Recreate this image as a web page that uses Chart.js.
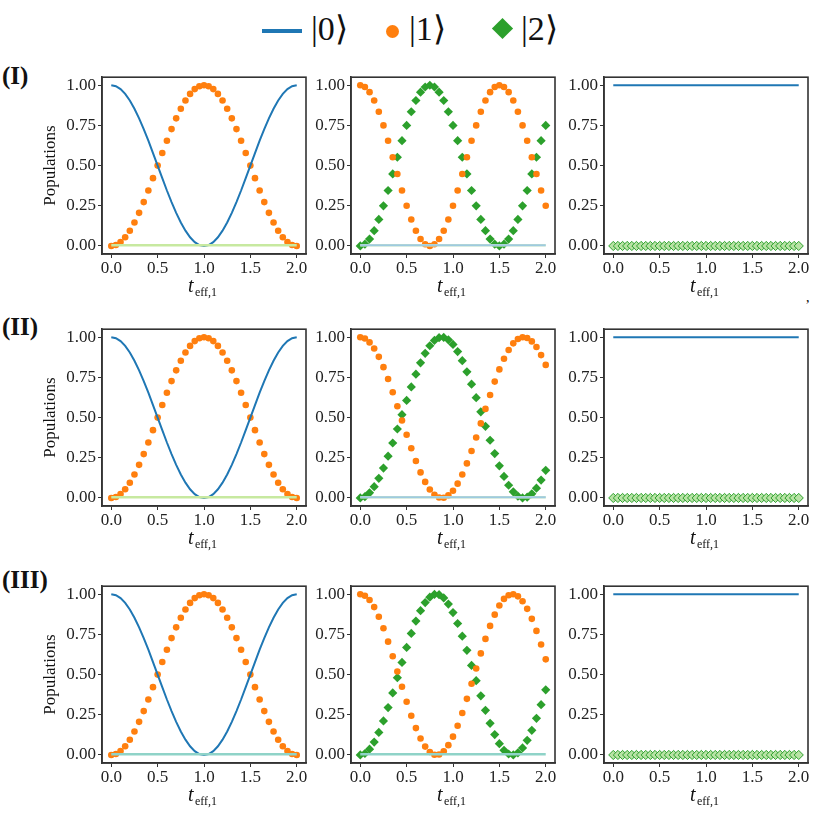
<!DOCTYPE html>
<html>
<head>
<meta charset="utf-8">
<script src="https://cdn.jsdelivr.net/npm/chart.js@4"></script>
<style>
  body { margin: 0; background: #fff; width: 831px; height: 833px; position: relative; overflow: hidden; font-family: "Liberation Serif", serif; }
  .panel { position: absolute; }
  .rowlab { position: absolute; font-weight: bold; font-size: 25px; color: #111; }
  #legend { position: absolute; top: 8px; left: 262px; height: 44px; font-size: 34px; color: #111; }
  #legend span { position: absolute; top: 0; white-space: nowrap; }
</style>
</head>
<body>
<div id="legend">
  <span style="left:0;top:21px;width:40px;height:4px;background:#1f77b4"></span>
  <span style="left:49px">|0⟩</span>
  <span style="left:124px;top:17px;width:13px;height:13px;border-radius:50%;background:#ff7f0e"></span>
  <span style="left:147px">|1⟩</span>
  <span style="left:233px;top:13px;width:15px;height:15px;transform:rotate(45deg);background:#2ca02c"></span>
  <span style="left:259px">|2⟩</span>
</div>
<div class="rowlab" style="left:2px;top:62px">(I)</div>
<div class="rowlab" style="left:2px;top:313px">(II)</div>
<div class="rowlab" style="left:2px;top:566px">(III)</div>
<div style="position:absolute;left:806px;top:290px;font-size:14px">,</div>

<script>
const T = [0,0.05,0.1,0.15,0.2,0.25,0.3,0.35,0.4,0.45,0.5,0.55,0.6,0.65,0.7,0.75,0.8,0.85,0.9,0.95,1,
           1.05,1.1,1.15,1.2,1.25,1.3,1.35,1.4,1.45,1.5,1.55,1.6,1.65,1.7,1.75,1.8,1.85,1.9,1.95,2];
const X_TICKS = [0, 0.5, 1, 1.5, 2];
const Y_TICKS = [0, 0.25, 0.5, 0.75, 1];

// column 1: |0> and |1>
const c1Pop0 = [1,.994,.976,.946,.905,.854,.794,.727,.655,.578,.5,.422,.345,.273,.206,.146,.095,.054,.024,.006,0,
                .006,.024,.054,.095,.146,.206,.273,.345,.422,.5,.578,.655,.727,.794,.854,.905,.946,.976,.994,1];
const c1Pop1 = [0,.006,.024,.054,.095,.146,.206,.273,.345,.422,.5,.578,.655,.727,.794,.854,.905,.946,.976,.994,1,
                .994,.976,.946,.905,.854,.794,.727,.655,.578,.5,.422,.345,.273,.206,.146,.095,.054,.024,.006,0];

// column 2: |1> and |2>, one pair per row
const r1Pop1 = [1,.989,.957,.905,.835,.75,.655,.552,.448,.345,.25,.165,.095,.043,.011,0,.011,.043,.095,.165,.25,
                .345,.448,.552,.655,.75,.835,.905,.957,.989,1,.989,.957,.905,.835,.75,.655,.552,.448,.345,.25];
const r1Pop2 = [0,.011,.043,.095,.165,.25,.345,.448,.552,.655,.75,.835,.905,.957,.989,1,.989,.957,.905,.835,.75,
                .655,.552,.448,.345,.25,.165,.095,.043,.011,0,.011,.043,.095,.165,.25,.345,.448,.552,.655,.75];
const r2Pop1 = [1,.992,.968,.930,.878,.814,.740,.658,.571,.482,.393,.309,.230,.159,.100,.053,.020,.003,.001,.016,.045,
                .089,.146,.215,.292,.376,.464,.554,.641,.724,.800,.866,.921,.962,.989,1,.995,.974,.939,.889,.828];
const r2Pop2 = [0,.008,.032,.070,.122,.186,.260,.342,.429,.518,.607,.691,.770,.841,.900,.947,.980,.997,.999,.984,.955,
                .911,.854,.785,.708,.624,.536,.446,.359,.276,.200,.134,.079,.038,.011,0,.005,.026,.061,.111,.172];
const r3Pop1 = [1,.991,.964,.920,.860,.788,.705,.614,.519,.424,.331,.244,.167,.102,.052,.018,.001,.003,.023,.061,.114,
                .182,.261,.349,.443,.538,.632,.722,.803,.873,.930,.971,.994,1,.987,.956,.909,.847,.772,.687,.595];
const r3Pop2 = [0,.009,.036,.080,.140,.212,.295,.386,.481,.576,.669,.756,.833,.898,.948,.982,.999,.997,.977,.939,.886,
                .818,.739,.651,.557,.462,.368,.278,.197,.127,.070,.029,.006,0,.013,.044,.091,.153,.228,.313,.405];

// small leakage and the frozen column 3
const leak = [.004,.004,.004,.004,.004,.004,.004,.004,.004,.004,.004,.004,.004,.004,.004,.004,.004,.004,.004,.004,.004,
              .004,.004,.004,.004,.004,.004,.004,.004,.004,.004,.004,.004,.004,.004,.004,.004,.004,.004,.004,.004];
const flatOne = [1,1,1,1,1,1,1,1,1,1,1,1,1,1,1,1,1,1,1,1,1,1,1,1,1,1,1,1,1,1,1,1,1,1,1,1,1,1,1,1,1];
const flatZero = [0,0,0,0,0,0,0,0,0,0,0,0,0,0,0,0,0,0,0,0,0,0,0,0,0,0,0,0,0,0,0,0,0,0,0,0,0,0,0,0,0];

const BLUE = "#1f77b4", ORANGE = "#ff7f0e", GREEN = "#2ca02c";
const SERIF = "'Liberation Serif', 'DejaVu Serif', serif";
Chart.defaults.font.family = SERIF;

function pts(vals) { return vals.map((v, i) => ({ x: T[i], y: v })); }
function line(vals, color, w) {
  return { data: pts(vals), showLine: true, borderColor: color, borderWidth: w, pointRadius: 0 };
}
function dots(vals) {
  return { data: pts(vals), showLine: false, pointRadius: 3.3, backgroundColor: ORANGE, borderWidth: 0 };
}
function diamonds(vals, fill, edge) {
  return { data: pts(vals), showLine: false, pointStyle: "rectRot", pointRadius: 4.6,
           backgroundColor: fill, borderColor: edge || fill, borderWidth: edge ? 1 : 0 };
}

const frame = {
  id: "frame",
  afterDraw(chart) {
    const a = chart.chartArea, ctx = chart.ctx;
    ctx.save();
    ctx.strokeStyle = "#333";
    ctx.lineWidth = 1.6;
    ctx.strokeRect(a.left, a.top, a.right - a.left, a.bottom - a.top);
    // x axis title t_eff,1
    const cx = (a.left + a.right) / 2, y = a.bottom + 38;
    ctx.fillStyle = "#111";
    ctx.textBaseline = "alphabetic";
    ctx.font = "italic 20px " + SERIF;
    ctx.fillText("t", cx - 16, y);
    ctx.font = "12px " + SERIF;
    ctx.fillText("eff,1", cx - 9, y + 4);
    ctx.restore();
  }
};

function panel(left, top, boxW, boxH, yTitle, datasets) {
  const yw = yTitle ? 62 : 42;
  const cv = document.createElement("canvas");
  const w = yw + boxW + 6, h = boxH + 2 + 46;
  cv.width = w; cv.height = h;
  cv.className = "panel";
  cv.style.left = (left - yw) + "px";
  cv.style.top = (top - 2) + "px";
  cv.style.width = w + "px"; cv.style.height = h + "px";
  document.body.appendChild(cv);
  const tickFont = { family: SERIF, size: 17 };
  new Chart(cv, {
    type: "scatter",
    data: { datasets },
    options: {
      responsive: false, animation: false, devicePixelRatio: 1,
      layout: { padding: { top: 2, right: 6, left: 0, bottom: 0 } },
      plugins: { legend: { display: false }, tooltip: { enabled: false } },
      scales: {
        x: {
          min: -0.1, max: 2.1,
          afterBuildTicks: s => { s.ticks = X_TICKS.map(v => ({ value: v })); },
          afterFit: s => { s.height = 46; },
          ticks: { font: tickFont, color: "#222", padding: 0, maxRotation: 0, callback: v => v.toFixed(1) },
          grid: { drawOnChartArea: false, tickLength: 4, color: "#333" },
          border: { color: "#333", width: 1.6 }
        },
        y: {
          min: -0.05, max: 1.05,
          afterBuildTicks: s => { s.ticks = Y_TICKS.map(v => ({ value: v })); },
          afterFit: s => { s.width = yw; },
          ticks: { font: tickFont, color: "#222", padding: 2, callback: v => v.toFixed(2) },
          grid: { drawOnChartArea: false, tickLength: 4, color: "#333" },
          border: { color: "#333", width: 1.6 },
          title: { display: yTitle, text: "Populations", font: { family: SERIF, size: 17 }, color: "#111", padding: 0 }
        }
      }
    },
    plugins: [frame]
  });
}

const COLS = [102, 351, 604];
const ROWS = [67, 319, 576];
const BW = 204, BH = 187;

// row I
panel(COLS[0], ROWS[0], BW, BH, true, [line(leak, "#c7e9a0", 2.5), line(c1Pop0, BLUE, 2), dots(c1Pop1)]);
panel(COLS[1], ROWS[0], BW, BH, false, [line(leak, "#9ecae1", 2), line(leak, "#d9f0c0", 2.5), dots(r1Pop1), diamonds(r1Pop2, GREEN)]);
panel(COLS[2], ROWS[0], BW, BH, false, [line(flatOne, BLUE, 2), diamonds(flatZero, "#b8e3a5", GREEN)]);
// row II
panel(COLS[0], ROWS[1], BW, BH, true, [line(leak, "#c7e9a0", 2.5), line(c1Pop0, BLUE, 2), dots(c1Pop1)]);
panel(COLS[1], ROWS[1], BW, BH, false, [line(leak, "#9ecae1", 2), line(leak, "#d9f0c0", 2.5), dots(r2Pop1), diamonds(r2Pop2, GREEN)]);
panel(COLS[2], ROWS[1], BW, BH, false, [line(flatOne, BLUE, 2), diamonds(flatZero, "#b8e3a5", GREEN)]);
// row III
panel(COLS[0], ROWS[2], BW, BH, true, [line(leak, "#8fd3c8", 2.5), line(c1Pop0, BLUE, 2), dots(c1Pop1)]);
panel(COLS[1], ROWS[2], BW, BH, false, [line(leak, "#8fd3c8", 2.5), dots(r3Pop1), diamonds(r3Pop2, GREEN)]);
panel(COLS[2], ROWS[2], BW, BH, false, [line(flatOne, BLUE, 2), diamonds(flatZero, "#b8e3a5", GREEN)]);
</script>
</body>
</html>
